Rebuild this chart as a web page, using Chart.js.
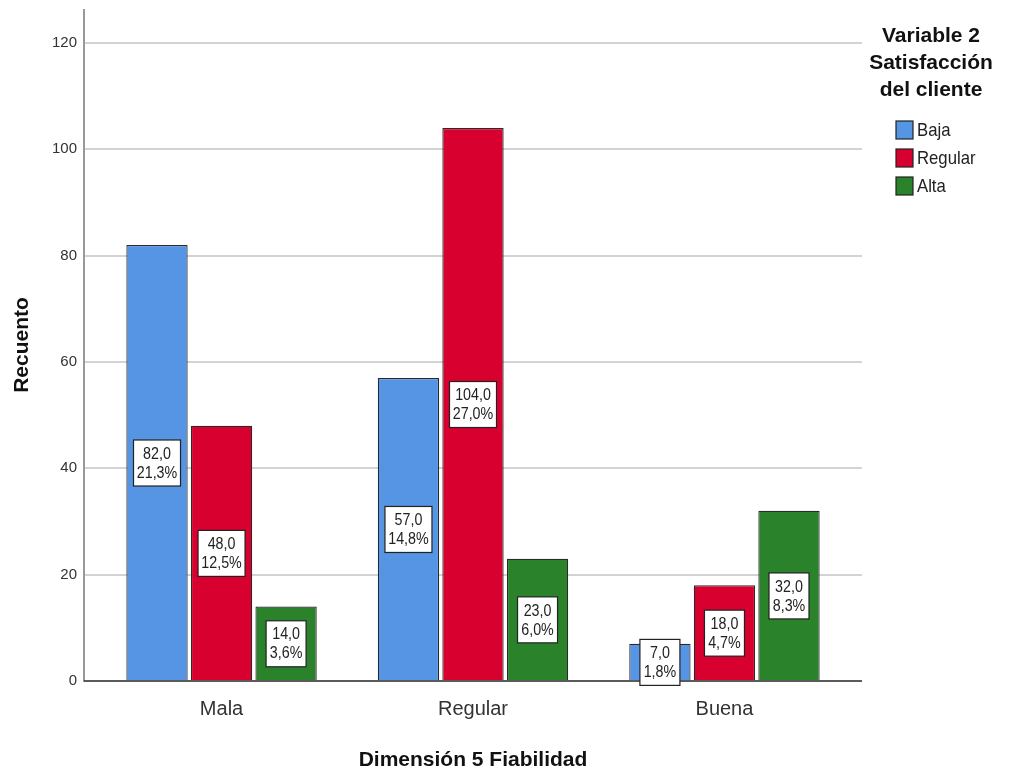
<!DOCTYPE html>
<html>
<head>
<meta charset="utf-8">
<script src="https://cdn.jsdelivr.net/npm/chart.js@4.4.0/dist/chart.umd.min.js"></script>
<style>
  html, body { margin: 0; padding: 0; background: #fff; }
  #wrap { width: 1009px; height: 771px; position: relative; }
</style>
</head>
<body>
<div id="wrap"><canvas id="chart" width="1009" height="771"></canvas></div>
<script>
// categories on the x axis
const categories = ['Mala', 'Regular', 'Buena'];
// legend series (Variable 2 Satisfacción del cliente)
const seriesNames = ['Baja', 'Regular', 'Alta'];
const baja = [82, 57, 7];
const regular = [48, 104, 18];
const alta = [14, 23, 32];
// percentage labels as printed inside the bars
const bajaPct = ['21,3%', '14,8%', '1,8%'];
const regularPct = ['12,5%', '27,0%', '4,7%'];
const altaPct = ['3,6%', '6,0%', '8,3%'];
const yTicks = [0, 20, 40, 60, 80, 100, 120];

const colors = ['#5595e3', '#d7002e', '#2a832a'];
const sans = '"Liberation Sans", Arial, sans-serif';

const values = [baja, regular, alta];
const pcts = [bajaPct, regularPct, altaPct];

// narrow text: draw Liberation Sans squeezed horizontally
function narrowText(ctx, text, x, y, sx) {
  ctx.save();
  ctx.translate(x, y);
  ctx.scale(sx, 1);
  ctx.fillText(text, 0, 0);
  ctx.restore();
}

// white value boxes in the middle of each bar + titles + legend
const decor = {
  id: 'decor',
  afterDatasetsDraw(chart) {
    const ctx = chart.ctx;
    const y = chart.scales.y;
    ctx.save();
    // dark baseline
    ctx.strokeStyle = '#333';
    ctx.lineWidth = 1.5;
    ctx.beginPath();
    ctx.moveTo(chart.chartArea.left, y.getPixelForValue(0));
    ctx.lineTo(chart.chartArea.right, y.getPixelForValue(0));
    ctx.stroke();

    ctx.font = '17px ' + sans;
    ctx.textAlign = 'center';
    ctx.textBaseline = 'middle';
    const sx = 0.84;
    chart.data.datasets.forEach((ds, di) => {
      chart.getDatasetMeta(di).data.forEach((bar, i) => {
        const v = values[di][i];
        const cx = bar.x;
        const cy = y.getPixelForValue(v / 2);
        const l1 = v.toFixed(1).replace('.', ',');
        const l2 = pcts[di][i];
        const w = Math.round(Math.max(ctx.measureText(l1).width, ctx.measureText(l2).width) * sx + 7);
        const h = 46;
        ctx.fillStyle = '#fff';
        ctx.fillRect(cx - w / 2, cy - h / 2, w, h);
        ctx.strokeStyle = '#222';
        ctx.lineWidth = 1.2;
        ctx.strokeRect(cx - w / 2, cy - h / 2, w, h);
        ctx.fillStyle = '#222';
        narrowText(ctx, l1, cx, cy - 9, sx);
        narrowText(ctx, l2, cx, cy + 10, sx);
      });
    });

    // axis titles
    ctx.fillStyle = '#111';
    ctx.font = 'bold 21px ' + sans;
    ctx.fillText('Dimensión 5 Fiabilidad', 473, 760);
    ctx.save();
    ctx.translate(22, 345);
    ctx.rotate(-Math.PI / 2);
    ctx.fillText('Recuento', 0, 0);
    ctx.restore();

    // legend
    ctx.font = 'bold 21px ' + sans;
    ctx.fillText('Variable 2', 931, 36);
    ctx.fillText('Satisfacción', 931, 63);
    ctx.fillText('del cliente', 931, 90);
    ctx.font = '19px ' + sans;
    ctx.textAlign = 'left';
    seriesNames.forEach((name, i) => {
      const ly = 130 + i * 28;
      ctx.fillStyle = colors[i];
      ctx.fillRect(896, ly - 9, 17, 18);
      ctx.strokeStyle = '#222';
      ctx.lineWidth = 1.2;
      ctx.strokeRect(896, ly - 9, 17, 18);
      ctx.fillStyle = '#222';
      narrowText(ctx, name, 917, ly + 1, 0.88);
    });
    ctx.restore();
  }
};

new Chart(document.getElementById('chart'), {
  type: 'bar',
  data: {
    datasets: seriesNames.map((name, di) => ({
      label: name,
      data: values[di].map((v, i) => ({ x: i, y: v })),
      backgroundColor: colors[di],
      borderColor: '#2a2a2a',
      borderWidth: 1.2,
      categoryPercentage: 0.77,
      barPercentage: 0.95
    }))
  },
  options: {
    responsive: false,
    animation: false,
    layout: { padding: { top: 10, right: 147 } },
    plugins: { legend: { display: false }, tooltip: { enabled: false } },
    scales: {
      x: {
        type: 'linear',
        offset: false,
        min: -0.547,
        max: 2.547,
        afterBuildTicks: s => { s.ticks = categories.map((c, i) => ({ value: i })); },
        afterFit: s => { s.height = 90; },
        grid: { display: false },
        border: { display: false },
        ticks: {
          callback: v => categories[v],
          color: '#333',
          font: { size: 20, family: sans },
          padding: 8
        }
      },
      y: {
        min: 0,
        max: 126.2,
        afterBuildTicks: s => { s.ticks = yTicks.map(v => ({ value: v })); },
        afterFit: s => { s.width = 84; s.paddingTop = 0; },
        grid: { color: '#d3d3d3', lineWidth: 2, drawTicks: false },
        border: { display: true, color: '#999', width: 2 },
        ticks: {
          color: '#333',
          font: { size: 15, family: sans },
          padding: 7
        }
      }
    }
  },
  plugins: [decor]
});
</script>
</body>
</html>
